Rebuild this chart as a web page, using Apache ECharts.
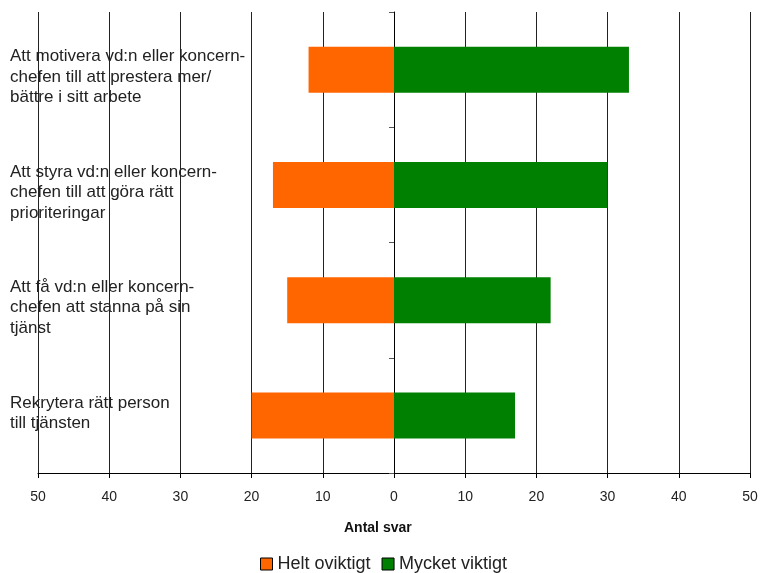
<!DOCTYPE html>
<html>
<head>
<meta charset="utf-8">
<script src="https://cdn.jsdelivr.net/npm/echarts@6/dist/echarts.min.js"></script>
<style>
  html, body { margin: 0; padding: 0; background: #fff; }
  #chart { width: 760px; height: 573px; }
</style>
</head>
<body>
<div id="chart"></div>
<script>
// Survey statements, listed top to bottom
const categories = [
  'Att motivera vd:n eller koncern-\nchefen till att prestera mer/\nbättre i sitt arbete',
  'Att styra vd:n eller koncern-\nchefen till att göra rätt\nprioriteringar',
  'Att få vd:n eller koncern-\nchefen att stanna på sin\ntjänst',
  'Rekrytera rätt person\ntill tjänsten'
];
// Number of answers per statement
const heltOviktigt = [12, 17, 15, 20];
const mycketViktigt = [33, 30, 22, 17];
const seriesNames = ['Helt oviktigt', 'Mycket viktigt'];
const axisTitle = 'Antal svar';

// Three-line statements sit a little lower in their band, two-line ones a little higher:
// a thin spacer line above (or below) nudges the text block.
function statementLabel(text) {
  const lines = text.split('\n');
  const body = lines.map(l => '{t|' + l + '}').join('\n');
  return lines.length >= 3 ? '{top| }\n' + body : body + '\n{bot| }';
}

const chart = echarts.init(document.getElementById('chart'));

chart.setOption({
  animation: false,
  backgroundColor: '#ffffff',
  grid: {
    left: 38, right: 10, top: 12, bottom: 100,
    containLabel: false,
    outerBoundsMode: 'none'
  },
  xAxis: {
    type: 'value',
    min: -50,
    max: 50,
    interval: 10,
    axisLine: { show: true, onZero: false, lineStyle: { color: '#000', width: 1 } },
    axisTick: { show: true, length: 5, lineStyle: { color: '#000' } },
    axisLabel: {
      margin: 17,
      color: '#222',
      fontFamily: 'Liberation Sans, Arial, sans-serif',
      fontSize: 14,
      formatter: v => String(Math.abs(v))
    },
    splitLine: { show: true, lineStyle: { color: '#222', width: 1 } }
  },
  yAxis: [
    {
      // zero line with category ticks
      type: 'category',
      data: categories,
      inverse: true,
      axisLine: { show: true, onZero: true, lineStyle: { color: '#000', width: 1 } },
      axisTick: { show: true, length: 5, lineStyle: { color: '#555' } },
      axisLabel: { show: false },
      splitLine: { show: false }
    },
    {
      // left-hand statement labels
      type: 'category',
      data: categories,
      inverse: true,
      position: 'left',
      axisLine: { show: false },
      axisTick: { show: false },
      splitLine: { show: false },
      axisLabel: {
        show: true,
        align: 'left',
        margin: 28,
        formatter: statementLabel,
        rich: {
          t: {
            color: '#222',
            fontFamily: 'Liberation Sans, Arial, sans-serif',
            fontSize: 17,
            lineHeight: 20.5,
            align: 'left'
          },
          top: { fontSize: 1, lineHeight: 15 },
          bot: { fontSize: 1, lineHeight: 4 }
        }
      }
    }
  ],
  legend: {
    data: seriesNames,
    left: 260,
    top: 555,
    padding: 0,
    icon: 'rect',
    itemWidth: 12,
    itemHeight: 12,
    itemGap: 11,
    itemStyle: { borderColor: '#000', borderWidth: 1 },
    textStyle: {
      color: '#222',
      fontFamily: 'Liberation Sans, Arial, sans-serif',
      fontSize: 18
    }
  },
  graphic: [
    {
      type: 'text',
      left: 344,
      top: 521,
      style: {
        text: axisTitle,
        fill: '#111',
        font: 'bold 14px "Liberation Sans", Arial, sans-serif'
      }
    }
  ],
  series: [
    {
      name: seriesNames[0],
      type: 'bar',
      stack: 'svar',
      yAxisIndex: 0,
      barWidth: 46,
      itemStyle: { color: '#FF6600' },
      data: heltOviktigt.map(v => -v)
    },
    {
      name: seriesNames[1],
      type: 'bar',
      stack: 'svar',
      yAxisIndex: 0,
      barWidth: 46,
      itemStyle: { color: '#008000' },
      data: mycketViktigt
    }
  ]
});
</script>
</body>
</html>
